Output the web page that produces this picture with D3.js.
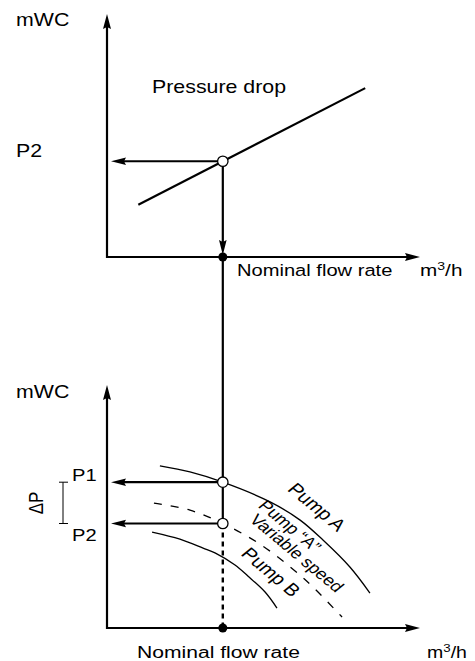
<!DOCTYPE html>
<html><head><meta charset="utf-8">
<script src="https://cdn.jsdelivr.net/npm/d3@7"></script>
<style>html,body{margin:0;padding:0;background:#fff;} svg{display:block;}</style>
</head><body>
<svg id="chart" width="475" height="661"></svg>
<script>
// ---------------- data ----------------
const flowDomain = [0, 100];
const headDomain = [0, 100];
const nominalFlow = 37;
const pressureDropLine = [[10, 21.5], [82.5, 69.5]];
const pressureAtNominal = 39.4;
const pumpA = [[16.9,66.7],[26.5,64.2],[37,60],[52.1,51.9],[61.7,44.4],[69,36.2],[77.6,25.1],[84,14.4]];
const pumpAVariable = [[15,51.4],[26.5,48.5],[37,43],[48.9,34.5],[61.7,21.7],[66.5,16],[75.1,4.5]];
const pumpB = [[14.4,39.5],[23.3,36.6],[30.7,32.9],[34.5,30.9],[40.9,25.9],[45,21.4],[50.5,14.8],[54.3,8.2]];
const p1Value = 60;
const p2Value = 43;
const axisLabels = { head: "mWC", flowUnit: "m", flowSup: "3", flowPer: "/h", nominal: "Nominal flow rate" };
const curveLabels = ["Pump A", "Pump \u201CA\u201D", "Variable speed", "Pump B"];
const pressureLabels = ["P1", "P2", "\u0394P", "Pressure drop"];

// ---------------- drawing ----------------
const svg = d3.select("#chart");
const FONT = "'Liberation Sans', Arial, Helvetica, sans-serif";
const SX = 1.22; // horizontal stretch of the source lettering

const x = d3.scaleLinear().domain(flowDomain).range([107, 420]);
const yTop = d3.scaleLinear().domain(headDomain).range([257, 14]);
const yBot = d3.scaleLinear().domain(headDomain).range([628, 385]);

const g = svg.append("g");

function arrow(x1, y1, x2, y2, L = 15, W = 4, sw = 2.2) {
  const a = Math.atan2(y2 - y1, x2 - x1);
  g.append("line")
    .attr("x1", x1).attr("y1", y1)
    .attr("x2", x2 - (L - 3) * Math.cos(a)).attr("y2", y2 - (L - 3) * Math.sin(a))
    .attr("stroke", "#000").attr("stroke-width", sw);
  g.append("path")
    .attr("d", `M0,0L${-L},${-W}L${-L + 2},0L${-L},${W}Z`)
    .attr("transform", `translate(${x2},${y2}) rotate(${a * 180 / Math.PI})`)
    .attr("fill", "#000");
}

function label(txt, px, py, size, opts = {}) {
  const t = g.append("text")
    .attr("transform", `translate(${px},${py}) scale(${SX},1)` + (opts.rot ? ` rotate(${opts.rot})` : ""))
    .attr("font-family", FONT).attr("font-size", size).attr("fill", "#000")
    .attr("text-anchor", opts.anchor || "start");
  if (opts.dy) t.attr("dy", opts.dy);
  t.text(txt);
  return t;
}

function unitLabel(px, py, size) {
  const t = g.append("text")
    .attr("transform", `translate(${px},${py}) scale(${SX},1)`)
    .attr("font-family", FONT).attr("font-size", size).attr("fill", "#000");
  t.append("tspan").text(axisLabels.flowUnit);
  t.append("tspan").attr("font-size", size * 0.68).attr("dy", -size * 0.38).text(axisLabels.flowSup);
  t.append("tspan").attr("dy", size * 0.38).text(axisLabels.flowPer);
}

const xn = x(nominalFlow);

// ---- upper chart ----
arrow(x(0), yTop(0) + 1, x(0), yTop(100), 15, 4);
arrow(x(0) - 1, yTop(0), x(100), yTop(0), 15, 4);

g.append("path")
  .attr("d", d3.line().x(d => x(d[0])).y(d => yTop(d[1]))(pressureDropLine))
  .attr("fill", "none").attr("stroke", "#000").attr("stroke-width", 2.2);

arrow(xn, yTop(pressureAtNominal), x(0) + 4, yTop(pressureAtNominal), 15, 3.8);
arrow(xn, yTop(pressureAtNominal), xn, yTop(0) - 2, 15, 3.8);

// connecting vertical line down to lower chart
g.append("line")
  .attr("x1", xn).attr("x2", xn)
  .attr("y1", yTop(0) - 4).attr("y2", yBot(p2Value))
  .attr("stroke", "#000").attr("stroke-width", 2.2);

// ---- lower chart ----
arrow(x(0), yBot(0) + 1, x(0), yBot(100), 15, 4);
arrow(x(0) - 1, yBot(0), x(100), yBot(0), 15, 4);

const curve = d3.line().x(d => x(d[0])).y(d => yBot(d[1])).curve(d3.curveCatmullRom);
g.append("path").attr("d", curve(pumpA))
  .attr("fill", "none").attr("stroke", "#000").attr("stroke-width", 1.3);
g.append("path").attr("d", curve(pumpAVariable))
  .attr("fill", "none").attr("stroke", "#000").attr("stroke-width", 1.3)
  .attr("stroke-dasharray", "8,9");
g.append("path").attr("d", curve(pumpB))
  .attr("fill", "none").attr("stroke", "#000").attr("stroke-width", 1.3);

// dotted line from P2 to axis
g.append("line")
  .attr("x1", xn).attr("x2", xn)
  .attr("y1", yBot(p2Value)).attr("y2", yBot(0))
  .attr("stroke", "#000").attr("stroke-width", 2.4)
  .attr("stroke-dasharray", "5,4");

arrow(xn, yBot(p1Value), x(0) + 4, yBot(p1Value), 15, 3.8);
arrow(xn, yBot(p2Value), x(0) + 4, yBot(p2Value), 15, 3.8);

// ΔP bracket
const bx = 63;
g.append("line").attr("x1", bx).attr("x2", bx).attr("y1", yBot(p1Value)).attr("y2", yBot(p2Value))
  .attr("stroke", "#000").attr("stroke-width", 1);
[p1Value, p2Value].forEach(v => {
  g.append("line").attr("x1", bx - 4).attr("x2", bx + 5).attr("y1", yBot(v)).attr("y2", yBot(v))
    .attr("stroke", "#000").attr("stroke-width", 1);
});

// points
[[xn, yTop(0)], [xn, yBot(0)]].forEach(p => {
  g.append("circle").attr("cx", p[0]).attr("cy", p[1]).attr("r", 4.5).attr("fill", "#000");
});
[[xn, yTop(pressureAtNominal)], [xn, yBot(p1Value)], [xn, yBot(p2Value)]].forEach(p => {
  g.append("circle").attr("cx", p[0]).attr("cy", p[1]).attr("r", 5.2)
    .attr("fill", "#fff").attr("stroke", "#000").attr("stroke-width", 1.3);
});

// ---- texts ----
label(axisLabels.head, 16, 26, 17.5);
label(pressureLabels[1], 16, 157, 17.5);
label(pressureLabels[3], 152, 93, 17.5);
label(axisLabels.nominal, 237, 276, 16.5);
unitLabel(420, 276, 17);

label(axisLabels.head, 16, 398, 17.5);
label(pressureLabels[0], 72, 481, 16.5);
label(pressureLabels[1], 72, 541, 16.5);
label(pressureLabels[2], 43, 503, 17, { rot: -90, anchor: "middle" });
label(axisLabels.nominal, 137, 658, 17.3);
unitLabel(427, 658, 16);

label(curveLabels[0], 317, 507, 17, { rot: 45.5, anchor: "middle", dy: "0.35em" });
label(curveLabels[1], 290, 526, 15.5, { rot: 45.5, anchor: "middle", dy: "0.35em" });
label(curveLabels[2], 297, 553, 15.5, { rot: 45.5, anchor: "middle", dy: "0.35em" });
label(curveLabels[3], 271, 572, 17, { rot: 45.5, anchor: "middle", dy: "0.35em" });
</script>
</body></html>
